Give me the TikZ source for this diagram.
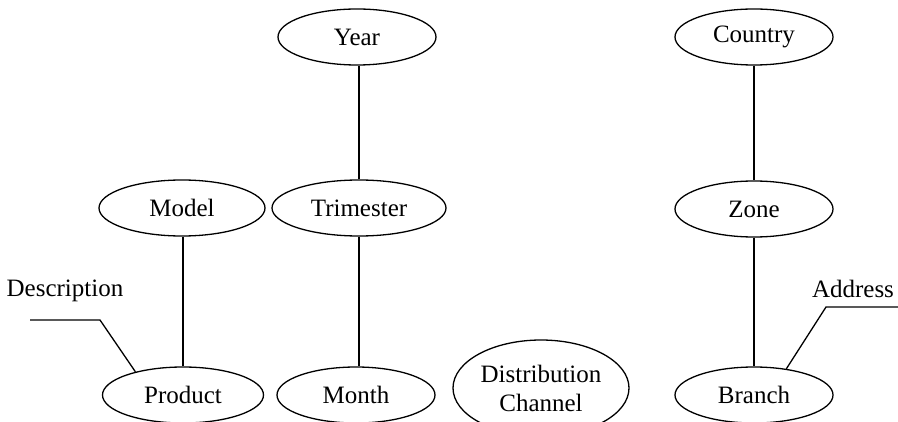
\documentclass[tikz,border=0pt]{standalone}
\usepackage{fontspec}
\setmainfont{Liberation Serif}
\usepackage{tikz}
\usetikzlibrary{shapes.geometric,positioning}
\tikzstyle{attr} = [ellipse, draw, line width=0.65pt, minimum width=79pt, minimum height=28pt, inner sep=0pt]
\tikzstyle{link} = [line width=0.65pt]

\begin{document}
\begin{tikzpicture}[x=0.5pt,y=-0.5pt,font=\fontsize{12.5}{14.5}\selectfont]
\useasboundingbox (0,0) rectangle (898,422);

% Top level
\node[attr] (Year) at (357,37) {Year};
\node[attr] (Country) at (754,37) {Country};

% Middle level
\node[attr, minimum width=83pt] (Model) at (182,208) {Model};
\node[attr, minimum width=87pt] (Trimester) at (359,208) {Trimester};
\node[attr] (Zone) at (754,209) {Zone};

% Bottom level
\node[attr, minimum width=80.5pt] (Product) at (183,395) {Product};
\node[attr] (Month) at (356,395) {Month};
\node[attr, minimum width=88pt, minimum height=48pt, align=center] (Channel) at (541,388) {Distribution\\Channel};
\node[attr] (Branch) at (754,395) {Branch};

% Hierarchies
\draw[link] (Trimester.north) -- (Trimester.north |- Year.south);
\draw[link] (Trimester.south) -- (Trimester.south |- Month.north);
\draw[link] (Product.north) -- (Product.north |- Model.south);
\draw[link] (Country) -- (Zone);
\draw[link] (Zone) -- (Branch);

% Descriptive attributes
\node (Description) at (65,291) {Description};
\coordinate (descend) at (30,320);
\coordinate (descbend) at (100,320);
\draw[link] (descend) -- (descbend) -- (Product.154);

\node (Address) at (853,289) {Address};
\coordinate (addrend) at (898,307);
\coordinate (addrbend) at (826,307);
\draw[link] (addrend) -- (addrbend) -- (Branch.39);
\end{tikzpicture}
\end{document}
